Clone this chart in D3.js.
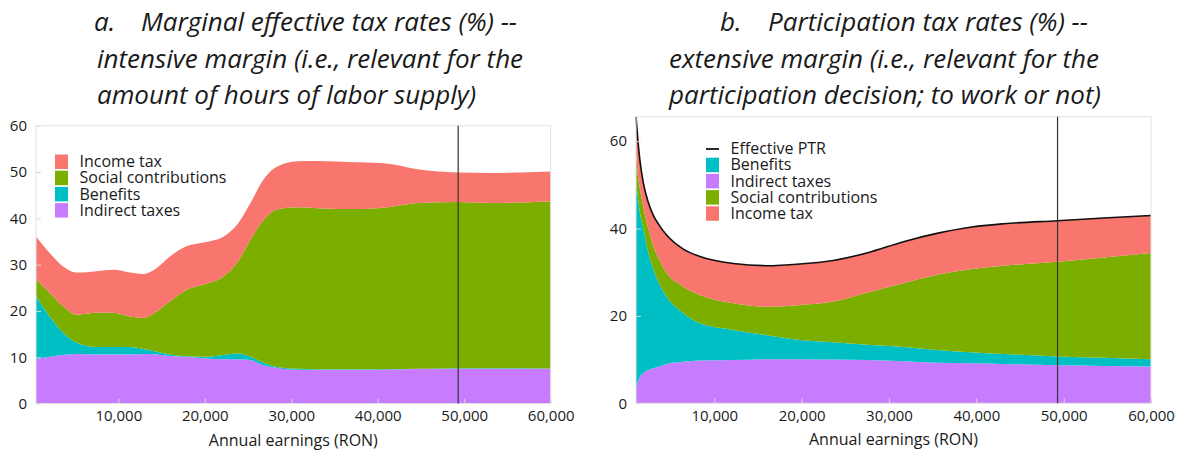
<!DOCTYPE html>
<html>
<head>
<meta charset="utf-8">
<script src="https://cdn.jsdelivr.net/npm/d3@7"></script>
<style>
  html, body { margin: 0; padding: 0; background: #fff; }
  svg { display: block; }
  text { font-family: "Open Sans", "Noto Sans", sans-serif; fill: #1a1a1a; }
</style>
</head>
<body>
<svg id="chart" width="1183" height="451"></svg>
<script>
// ---------------- DATA ----------------
// Panel a: marginal effective tax rates (%), components stacked
const earningsA = [480, 2070, 3620, 5160, 7490, 9420, 11350, 12900, 14450, 16000, 17930, 19870, 22190, 23730, 25280, 26830, 28380, 30700, 33000, 37660, 41140, 44620, 49260, 53120, 60000];
const indirectA = [9.6, 10.1, 10.5, 10.7, 10.6, 10.6, 10.6, 10.7, 10.6, 10.3, 10.1, 9.8, 9.6, 9.6, 9.4, 8.2, 7.7, 7.3, 7.3, 7.3, 7.35, 7.45, 7.55, 7.55, 7.5];
const benefitsA = [13.6, 8.7, 4.8, 2.5, 1.6, 1.6, 1.6, 1.1, 0.6, 0.3, 0.1, 0.3, 0.9, 1.2, 0.7, 0.6, 0.2, 0.2, 0.1, 0.1, 0.1, 0.1, 0.1, 0.1, 0.1];
const socialA   = [3.7, 5.1, 5.7, 6.0, 7.4, 7.4, 6.6, 6.7, 8.7, 11.5, 14.4, 15.6, 17.0, 19.6, 25.3, 30.9, 34.0, 34.9, 34.8, 34.6, 34.95, 35.75, 35.85, 35.65, 36.1];
const incomeA   = [9.2, 8.6, 8.6, 9.1, 9.0, 9.3, 9.5, 9.5, 9.4, 9.7, 9.4, 9.1, 8.6, 8.2, 7.9, 8.8, 9.3, 9.9, 10.2, 10.1, 9.4, 7.3, 6.4, 6.5, 6.4];

// Panel b: participation tax rates (%), components stacked
const earningsB = [1035, 1260, 1490, 1870, 2440, 3020, 3780, 4540, 6450, 8360, 12180, 16000, 19820, 23640, 27450, 31660, 35480, 39300, 43120, 49300, 54580, 60000];
const indirectB = [3.1, 5.0, 6.1, 6.9, 7.6, 8.0, 8.5, 9.0, 9.5, 9.8, 9.9, 10.1, 10.1, 10.0, 9.9, 9.6, 9.3, 9.15, 9.0, 8.7, 8.55, 8.4];
const benefitsB = [47.9, 42.0, 37.4, 33.1, 26.9, 22.7, 18.5, 15.4, 11.1, 8.5, 6.9, 5.5, 4.4, 4.0, 3.5, 3.3, 2.9, 2.55, 2.3, 2.0, 1.85, 1.7];
const socialB   = [6.0, 5.0, 5.5, 5.0, 5.5, 5.3, 5.5, 5.4, 6.1, 6.5, 6.1, 6.5, 8.0, 9.3, 11.9, 14.6, 17.2, 19.0, 20.2, 21.7, 23.0, 24.3];
const incomeB   = [8.6, 8.0, 6.5, 5.5, 6.0, 7.0, 8.0, 8.7, 8.6, 8.8, 9.1, 9.4, 9.4, 9.4, 9.1, 9.5, 9.5, 9.6, 9.6, 9.4, 9.0, 8.6];

const averageWage = 49300;
const xTickValues = [10000, 20000, 30000, 40000, 50000, 60000];
const yTicksA = [0, 10, 20, 30, 40, 50, 60];
const yTicksB = [0, 20, 40, 60];
const yMaxA = 60, yMaxB = 65.6;

const seriesKeys = ["indirect", "benefits", "social", "income"];
const seriesNames = {indirect: "Indirect taxes", benefits: "Benefits", social: "Social contributions", income: "Income tax"};
const colors = {income: "#F8766D", social: "#7CAE00", benefits: "#00BFC4", indirect: "#C77CFF"};

// ---------------- DRAW ----------------
const svg = d3.select("#chart");

function panel(opts) {
  const {x0, x1, y0, y1, xs, cols, yMax, yTicks, legend, ptr} = opts;
  const rows = xs.map((e, i) => ({e, indirect: cols.indirect[i], benefits: cols.benefits[i], social: cols.social[i], income: cols.income[i]}));
  const x = d3.scaleLinear().domain([xs[0], 60000]).range([x0, x1]);
  const y = d3.scaleLinear().domain([0, yMax]).range([y1, y0]);
  const stack = d3.stack().keys(seriesKeys)(rows);
  const g = svg.append("g");
  const area = d3.area().x(d => x(d.data.e)).y0(d => y(d[0])).y1(d => y(d[1])).curve(d3.curveMonotoneX);

  g.selectAll("path.area").data(stack).join("path")
    .attr("class", "area")
    .attr("d", area)
    .attr("fill", d => colors[d.key]);

  if (ptr) {
    const top = stack[stack.length - 1];
    g.append("path")
      .attr("d", d3.line().x(d => x(d.data.e)).y(d => y(d[1])).curve(d3.curveMonotoneX)(top))
      .attr("fill", "none").attr("stroke", "#111").attr("stroke-width", 1.6);
  }

  // border
  g.append("rect").attr("x", x0).attr("y", y0).attr("width", x1 - x0).attr("height", y1 - y0)
    .attr("fill", "none").attr("stroke", "#e3e3e3").attr("stroke-width", 1);

  // axes
  const ax = g.append("g").attr("transform", `translate(0,${y1})`)
    .call(d3.axisBottom(x).tickValues(xTickValues).tickFormat(d3.format(",")).tickSize(-5).tickPadding(7));
  const ay = g.append("g").attr("transform", `translate(${x0},0)`)
    .call(d3.axisLeft(y).tickValues(yTicks).tickFormat(d3.format("d")).tickSize(-5).tickPadding(9));
  [ax, ay].forEach(a => {
    a.select(".domain").remove();
    a.selectAll(".tick line").attr("stroke", "#d9d9d9");
    a.selectAll(".tick text").attr("font-size", 15).attr("fill", "#1a1a1a").style("font-family", '"Open Sans", sans-serif');
  });

  // average wage line
  g.append("line").attr("x1", x(averageWage)).attr("x2", x(averageWage)).attr("y1", y0).attr("y2", y1)
    .attr("stroke", "#333").attr("stroke-width", 1.2);

  // axis title
  g.append("text").attr("x", (x0 + x1) / 2).attr("y", y1 + 42).attr("text-anchor", "middle")
    .attr("font-size", 16).text("Annual earnings (RON)");

  // legend
  const lg = g.append("g").attr("transform", `translate(${legend.x},${legend.y})`);
  legend.items.forEach((k, i) => {
    const row = lg.append("g").attr("transform", `translate(0,${i * 16.2})`);
    if (k === "ptr") {
      row.append("line").attr("x1", 0).attr("x2", 13).attr("y1", 0.5).attr("y2", 0.5).attr("stroke", "#111").attr("stroke-width", 1.8);
      row.append("text").attr("x", 24.5).attr("y", 5.6).attr("font-size", 16).text("Effective PTR");
    } else {
      row.append("rect").attr("x", 0).attr("y", -7).attr("width", 13).attr("height", 14.5).attr("fill", colors[k]);
      row.append("text").attr("x", 24.5).attr("y", 5.6).attr("font-size", 16).text(seriesNames[k]);
    }
  });
}

panel({x0: 36, x1: 550.7, y0: 125.7, y1: 403.6, xs: earningsA,
  cols: {indirect: indirectA, benefits: benefitsA, social: socialA, income: incomeA},
  yMax: yMaxA, yTicks: yTicksA, ptr: false,
  legend: {x: 55, y: 161.5, items: ["income", "social", "benefits", "indirect"]}});

panel({x0: 636, x1: 1151, y0: 116.7, y1: 403.3, xs: earningsB,
  cols: {indirect: indirectB, benefits: benefitsB, social: socialB, income: incomeB},
  yMax: yMaxB, yTicks: yTicksB, ptr: true,
  legend: {x: 706, y: 148.5, items: ["ptr", "benefits", "indirect", "social", "income"]}});

// titles
const titleLines = [
  {x: 94, y: 31, t: "a."}, {x: 141, y: 31, t: "Marginal effective tax rates (%) --"},
  {x: 97, y: 68, t: "intensive margin (i.e., relevant for the"},
  {x: 97, y: 104, t: "amount of hours of labor supply)"},
  {x: 720, y: 31, t: "b."}, {x: 768, y: 31, t: "Participation tax rates (%) --"},
  {x: 669, y: 68, t: "extensive margin (i.e., relevant for the"},
  {x: 669, y: 104, t: "participation decision; to work or not)"}
];
svg.append("g").selectAll("text").data(titleLines).join("text")
  .attr("x", d => d.x).attr("y", d => d.y)
  .attr("font-size", 26).attr("font-style", "italic").attr("fill", "#111")
  .style("font-family", '"Open Sans", sans-serif')
  .text(d => d.t);
</script>
</body>
</html>
